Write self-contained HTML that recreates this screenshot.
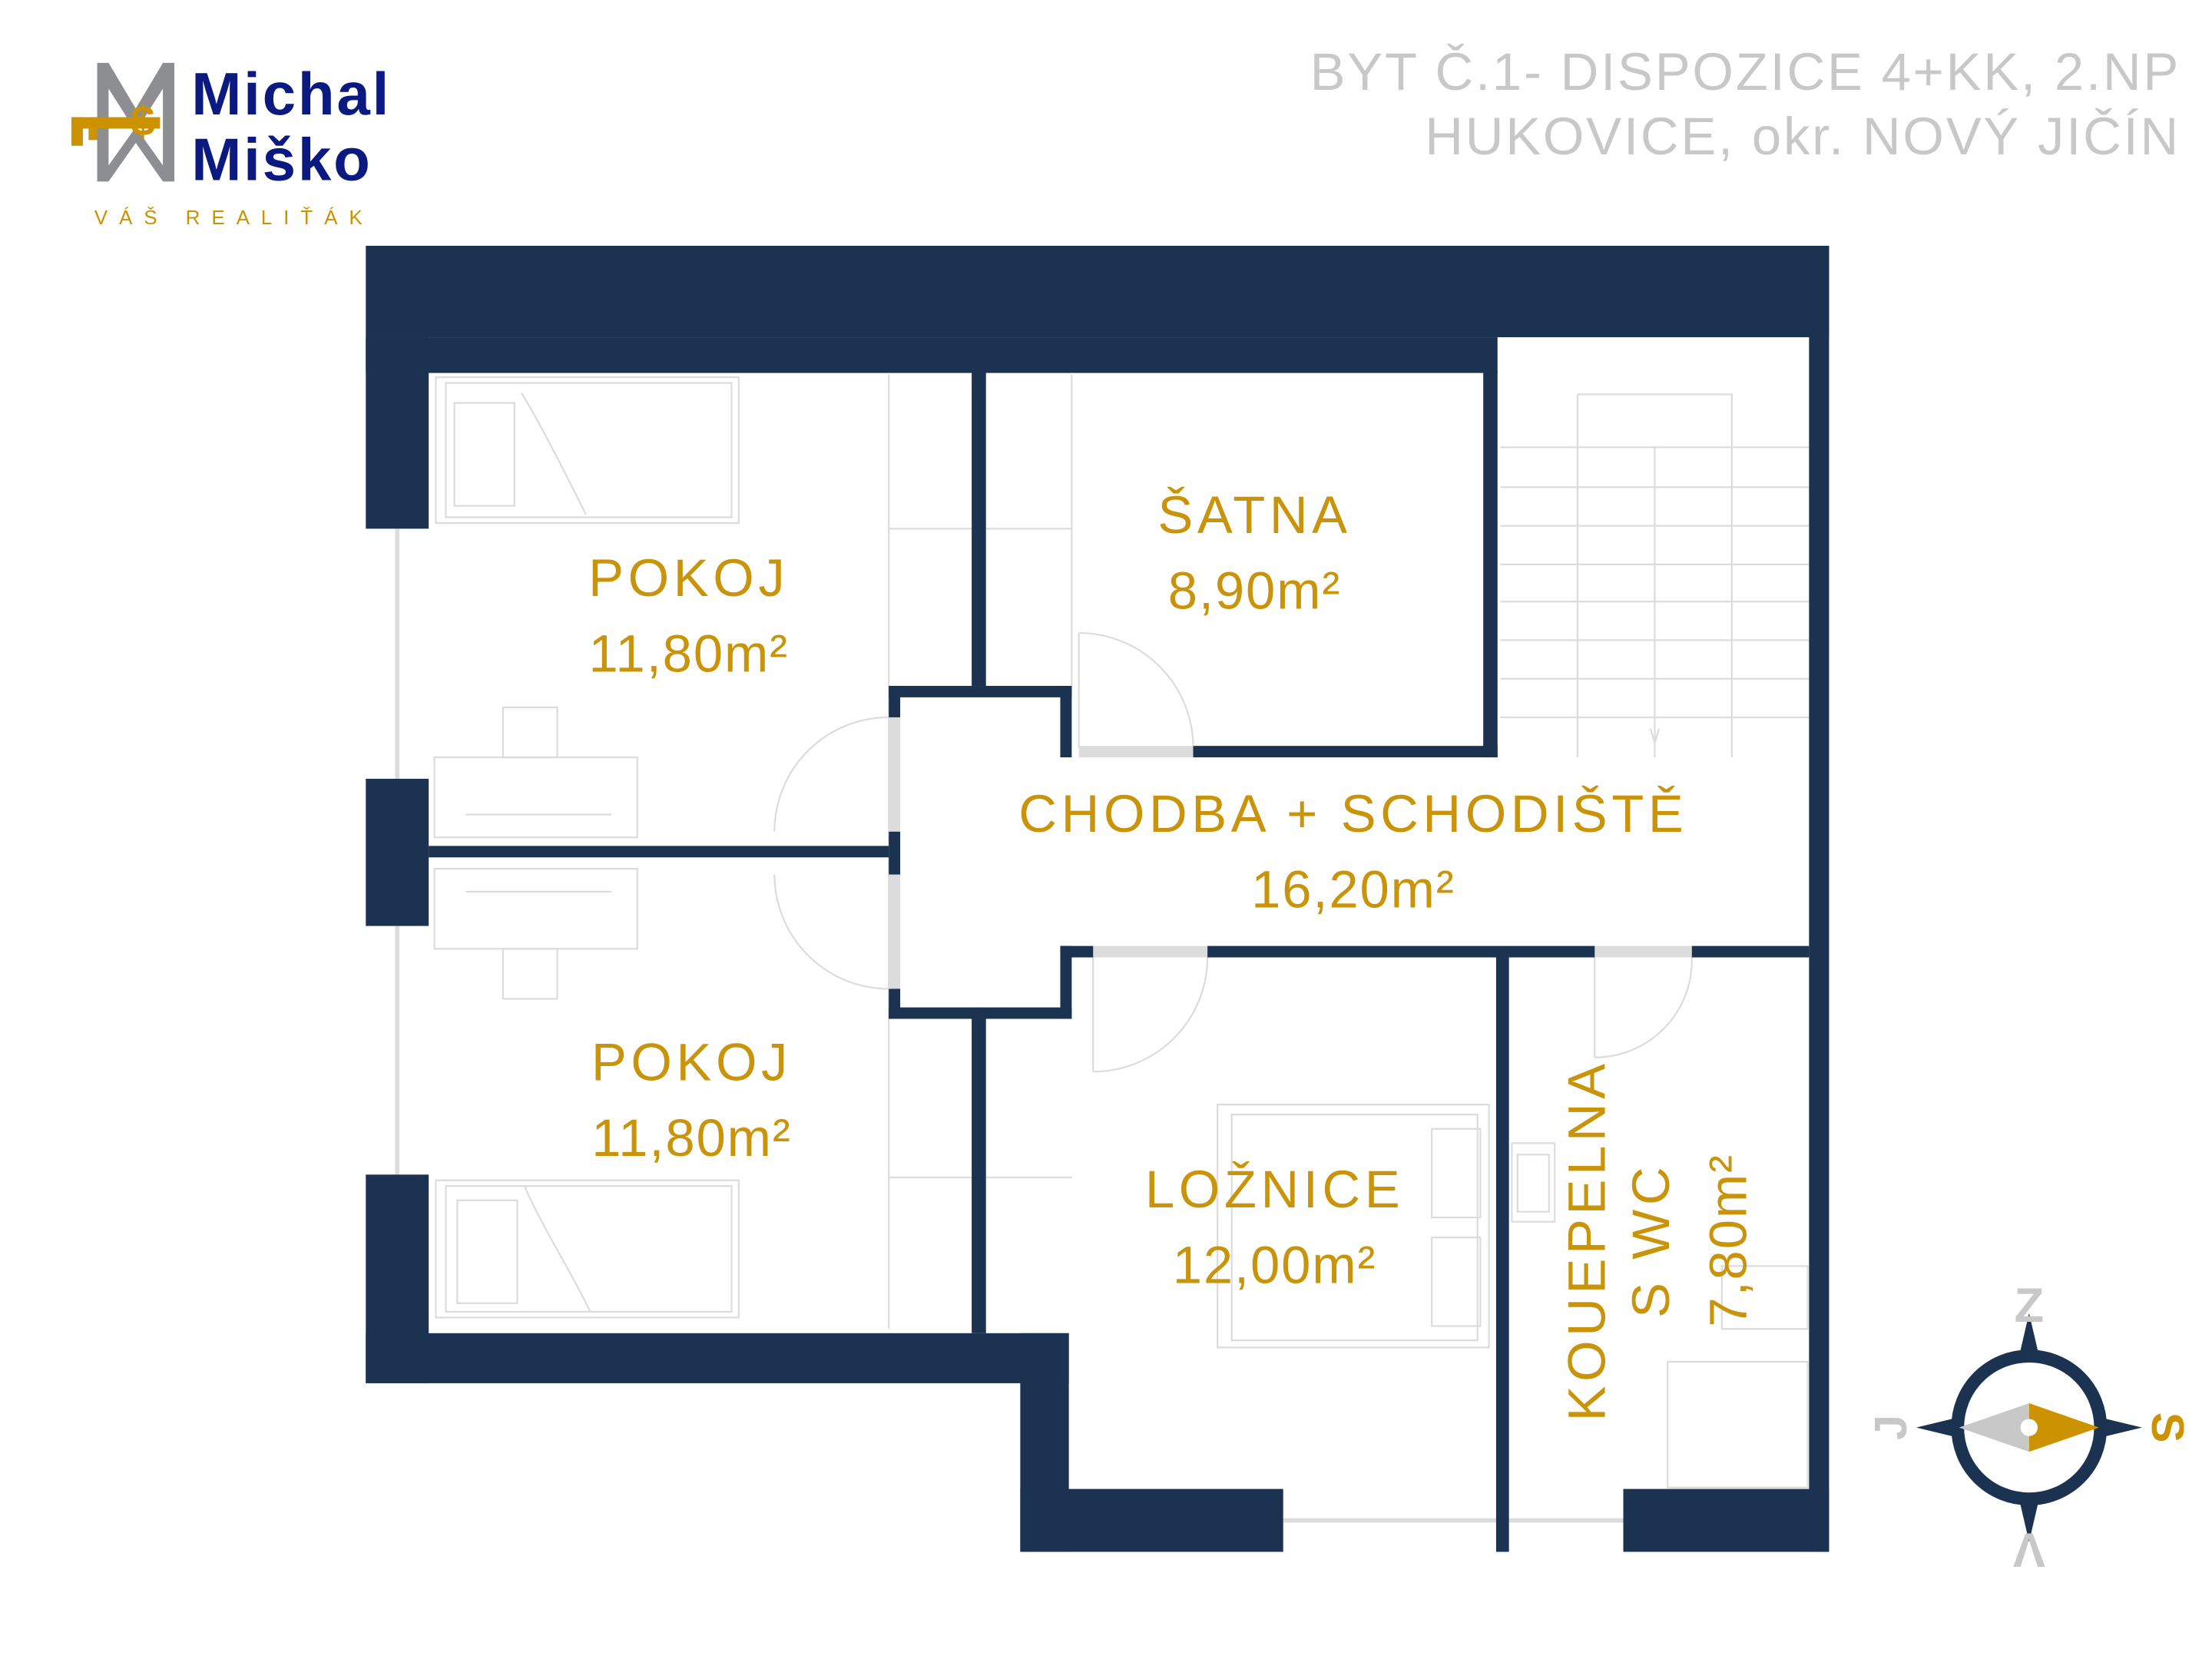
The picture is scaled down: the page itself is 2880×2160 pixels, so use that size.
<!DOCTYPE html>
<html><head><meta charset="utf-8"><style>html,body{margin:0;padding:0;background:#fff}svg{display:block}</style></head>
<body>
<svg width="2880" height="2160" viewBox="0 0 1548 1161" xmlns="http://www.w3.org/2000/svg" font-family="Liberation Sans, DejaVu Sans, sans-serif">
<rect width="1548" height="1161" fill="#fff"/>
<!-- logo -->
<g>
<polygon points="68,44 76,44 95,76 114,44 122,44 122,127 114,127 114,62 95,92 76,62 76,127 68,127" fill="#8d8e92"/>
<polygon points="68,127 95,89 122,127 114,127 95,100 76,127" fill="#8d8e92"/>
<rect x="50" y="82" width="62" height="8" fill="#cc9200"/>
<rect x="50" y="82" width="8" height="20" fill="#cc9200"/>
<rect x="62" y="90" width="6" height="8" fill="#cc9200"/>
<text x="100" y="95" font-size="30" font-weight="bold" fill="#cc9200" text-anchor="middle">$</text>
<text x="134" y="80" font-size="42" font-weight="bold" fill="#0b1a80" letter-spacing="1.5">Michal</text>
<text x="134" y="126" font-size="42" font-weight="bold" fill="#0b1a80" letter-spacing="1.5">Miško</text>
<text x="66" y="157" font-size="14" fill="#cc9200" letter-spacing="8">VÁŠ REALIŤÁK</text>
</g>
<text x="1526" y="63" font-size="37" fill="#c8c8c8" text-anchor="end" letter-spacing="1.5">BYT Č.1- DISPOZICE 4+KK, 2.NP</text>
<text x="1526" y="108" font-size="37" fill="#c8c8c8" text-anchor="end" letter-spacing="1.5">HUKOVICE, okr. NOVÝ JIČÍN</text>

<!-- furniture / light lines -->
<g fill="none" stroke="#dcdcdc" stroke-width="1.2">
<rect x="305" y="264" width="212" height="102"/><rect x="312" y="268" width="200" height="94"/>
<rect x="318" y="282" width="42" height="72"/><path d="M365 275 C380 300 395 330 410 360"/>
<rect x="305" y="826" width="212" height="96"/><rect x="312" y="830" width="200" height="88"/>
<rect x="320" y="840" width="42" height="72"/><path d="M367 830 C380 860 400 890 413 918"/>
<rect x="304" y="530" width="142" height="56"/><rect x="304" y="608" width="142" height="56"/>
<rect x="352" y="495" width="38" height="35"/><rect x="352" y="664" width="38" height="35"/>
<path d="M326 570 H428 M326 624 H428"/>
<path d="M622 262 V930 M622 370 H680 M690 370 H750 M622 824 H680 M690 824 H750 M750 262 V480"/>
<path d="M542 582 A80 80 0 0 1 622 502 M542 612 A80 80 0 0 0 622 692"/>
<path d="M755 443 A80 80 0 0 1 835 523 M765 750 A80 80 0 0 0 845 670 M1116 740 A68 68 0 0 0 1184 670"/>
<path d="M755 443 V523 M765 670 V750 M1116 670 V740"/>
<rect x="852" y="773" width="190" height="170"/><rect x="862" y="780" width="172" height="158"/>
<rect x="1002" y="790" width="34" height="62"/><rect x="1002" y="866" width="34" height="62"/>
<rect x="1058" y="800" width="30" height="55"/><rect x="1062" y="808" width="22" height="40"/>
<rect x="1205" y="886" width="60" height="44"/><rect x="1167" y="953" width="98" height="88"/>
<path d="M1104 276 H1212 V530 M1104 276 V530 M1158 313 V530 M1050 313 H1266 M1050 341 H1266 M1050 368 H1266 M1050 395 H1266 M1050 421 H1266 M1050 448 H1266 M1050 475 H1266 M1050 502 H1266"/>
<path d="M1158 520 l-3 -10 M1158 520 l3 -10"/>
</g>
<g stroke="#dcdcdc" stroke-width="3" fill="none">
<path d="M278 370 V545 M278 648 V822 M898 1064 H1136"/>
</g>
<g fill="#dcdcdc">
<rect x="622" y="502" width="8" height="80"/><rect x="622" y="612" width="8" height="80"/>
<rect x="755" y="522" width="80" height="8"/><rect x="765" y="662" width="80" height="8"/><rect x="1116" y="662" width="68" height="8"/>
</g>

<!-- walls -->
<g fill="#1b3251">
<rect x="256" y="172" width="1024" height="64"/>
<rect x="256" y="236" width="792" height="25"/>
<rect x="256" y="236" width="44" height="134"/>
<rect x="256" y="545" width="44" height="103"/>
<rect x="256" y="822" width="44" height="146"/>
<rect x="256" y="933" width="492" height="35"/>
<rect x="714" y="933" width="34" height="153"/>
<rect x="714" y="1042" width="184" height="44"/>
<rect x="1136" y="1042" width="144" height="44"/>
<rect x="1266" y="172" width="14" height="914"/>
<rect x="1047" y="670" width="9" height="416"/>
<rect x="680" y="260" width="10" height="220"/>
<rect x="680" y="713" width="10" height="220"/>
<rect x="1038" y="260" width="10" height="270"/>
<rect x="835" y="522" width="213" height="8"/>
<rect x="622" y="480" width="128" height="8"/>
<rect x="742" y="480" width="8" height="50"/>
<rect x="622" y="480" width="8" height="22"/>
<rect x="622" y="582" width="8" height="30"/>
<rect x="622" y="692" width="8" height="21"/>
<rect x="622" y="705" width="128" height="8"/>
<rect x="742" y="662" width="8" height="51"/>
<rect x="742" y="662" width="23" height="8"/>
<rect x="845" y="662" width="271" height="8"/>
<rect x="1184" y="662" width="82" height="8"/>
<rect x="300" y="592" width="322" height="8"/>
</g>

<!-- labels -->
<g fill="#c9930a" font-size="37" text-anchor="middle" letter-spacing="3">
<text x="482" y="417">POKOJ</text><text x="482" y="470" letter-spacing="1">11,80m²</text>
<text x="878" y="373">ŠATNA</text><text x="878" y="426" letter-spacing="1">8,90m²</text>
<text x="947" y="582">CHODBA + SCHODIŠTĚ</text><text x="947" y="635" letter-spacing="1">16,20m²</text>
<text x="484" y="756">POKOJ</text><text x="484" y="809" letter-spacing="1">11,80m²</text>
<text x="892" y="845">LOŽNICE</text><text x="892" y="898" letter-spacing="1">12,00m²</text>
<text transform="translate(1123,868) rotate(-90)">KOUEPELNA</text>
<text transform="translate(1168,868) rotate(-90)">S WC</text>
<text transform="translate(1222,868) rotate(-90)" letter-spacing="1">7,80m²</text>
</g>

<!-- compass -->
<g transform="translate(1420,999)">
<circle r="50" fill="none" stroke="#1b3251" stroke-width="9"/>
<polygon points="0,-80 -7,-50 7,-50" fill="#1b3251"/>
<polygon points="0,80 -7,50 7,50" fill="#1b3251"/>
<polygon points="-79,0 -50,-7 -50,7" fill="#1b3251"/>
<polygon points="79,0 50,-7 50,7" fill="#1b3251"/>
<polygon points="-49,0 0,-17 0,17" fill="#c8c8c8"/>
<polygon points="49,0 0,-17 0,17" fill="#cc9200"/>
<circle r="6" fill="#fff"/>
<text x="0" y="-74" font-size="34" font-weight="bold" fill="#c8c8c8" text-anchor="middle">Z</text>
<text transform="translate(0,74) rotate(180)" font-size="34" font-weight="bold" fill="#c8c8c8" text-anchor="middle">V</text>
<text transform="translate(-86,0) rotate(-90)" y="0" font-size="32" font-weight="bold" fill="#c8c8c8" text-anchor="middle">J</text>
<text transform="translate(86,0) rotate(90)" y="0" font-size="32" font-weight="bold" fill="#cc9200" text-anchor="middle">S</text>
</g>
</svg>
</body></html>
